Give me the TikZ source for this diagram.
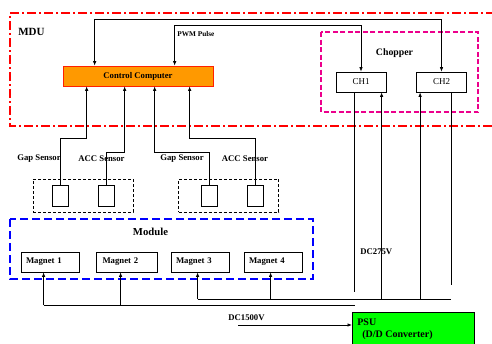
\documentclass[tikz,border=0pt]{standalone}
\usepackage{fontspec}
\setmainfont{Liberation Serif}
\usetikzlibrary{arrows.meta}

\definecolor{ccorange}{RGB}{255,153,0}
\definecolor{psugreen}{RGB}{0,255,0}

\begin{document}
\begin{tikzpicture}[x=1pt,y=-1pt,>={Latex[length=4.5pt,width=3.5pt]},line width=0.7pt,
                    every node/.style={font=\bfseries\fontsize{8.7}{10}\selectfont},
                    ctrl/.style={draw=red!75!orange,fill=ccorange,minimum width=150pt,minimum height=20pt},
                    chbox/.style={draw,thick,minimum width=50pt,minimum height=20pt,font=\fontsize{9}{10}\selectfont},
                    magbox/.style={draw,thick,minimum width=58pt,minimum height=20pt,text width=48pt,align=left},
                    sensbox/.style={draw,minimum width=16pt,minimum height=21pt},
                    sensgrp/.style={draw,densely dashed,thin,minimum width=100pt,minimum height=33pt},
                    psubox/.style={draw,thick,fill=psugreen,minimum width=122pt,minimum height=40pt},
                    mduframe/.style={draw=red,line width=1.5pt,dash pattern=on 9pt off 3pt on 2pt off 3pt},
                    chopframe/.style={draw=magenta,line width=1.2pt,dash pattern=on 5pt off 2.5pt},
                    modframe/.style={draw=blue,line width=1.5pt,dash pattern=on 8pt off 4pt},
                    lbl/.style={inner sep=0pt,anchor=west}]
	\useasboundingbox (0,0) rectangle (492,343);
	\clip (0,0) rectangle (492,343);

	% frames
	\draw[mduframe]  (495,13) -- (10,13) -- (10,126) -- (495,126);
	\draw[chopframe] (321,32) rectangle (478,112);
	\draw[modframe]  (10,219) rectangle (313,279);

	\node[ctrl]		(cc)	at (138,76)		{Control Computer};
	\node[chbox]	(ch1)	at (361,82)		{CH1};
	\node[chbox]	(ch2)	at (441.5,82)	{CH2};
	\node[magbox]	(m1)	at (50,262)		{Magnet 1};
	\node[magbox,minimum width=61pt]	(m2)	at (126.5,262)	{Magnet 2};
	\node[magbox]	(m3)	at (200,262)	{Magnet 3};
	\node[magbox]	(m4)	at (273,262)	{Magnet 4};
	\node[sensgrp]	(g1)	at (83,195.5)	{};
	\node[sensgrp]	(g2)	at (228.5,195.5)	{};
	\node[sensbox]	(s1)	at (60,195.5)	{};
	\node[sensbox]	(s2)	at (106,195.5)	{};
	\node[sensbox]	(s3)	at (209,195.5)	{};
	\node[sensbox]	(s4)	at (255.5,195.5)	{};
	\node[psubox,anchor=north west]	(psu)	at (352,312)	{};

	% labels
	\node[lbl,font=\bfseries\fontsize{11}{12}\selectfont]	(mdu)	at (18,32)	{MDU};
	\node[lbl,font=\bfseries\fontsize{7.3}{8}\selectfont]	(pwm)	at (177,34)	{PWM Pulse};
	\node[font=\bfseries\fontsize{9.8}{11}\selectfont]		(chop)	at (394.5,53)	{Chopper};
	\node[font=\bfseries\fontsize{10.7}{12}\selectfont]	(mod)	at (150.5,232)	{Module};
	\node	(gap1)	at (39,159)		{Gap Sensor};
	\node	(acc1)	at (101.5,159)	{ACC Sensor};
	\node	(gap2)	at (182,159)	{Gap Sensor};
	\node	(acc2)	at (245,159)	{ACC Sensor};
	\node[lbl]	(dc275)		at (360,252)	{DC275V};
	\node[lbl]	(dc1500)	at (228,318)	{DC1500V};
	\node[lbl,font=\bfseries\fontsize{10}{12}\selectfont]	(psut)	at (357,322)	{PSU};
	\node[lbl,font=\bfseries\fontsize{10}{12}\selectfont]	(psud)	at (362,335)	{(D/D Converter)};

	% connection points
	\coordinate (cout1)	at ([xshift=32pt]cc.north west);
	\coordinate (cout2)	at ([xshift=112pt]cc.north west);
	\coordinate (cin1)	at ([xshift=24pt]cc.south west);
	\coordinate (cin2)	at ([xshift=62pt]cc.south west);
	\coordinate (cin3)	at ([xshift=92pt]cc.south west);
	\coordinate (cin4)	at ([xshift=127pt]cc.south west);
	\coordinate (ch1o)	at ([xshift=19pt]ch1.south west);
	\coordinate (ch1i)	at ([xshift=46pt]ch1.south west);
	\coordinate (ch2i)	at ([xshift=4pt]ch2.south west);
	\coordinate (ch2o)	at ([xshift=35pt]ch2.south west);
	\coordinate (m1i)	at ([xshift=23pt]m1.south west);
	\coordinate (m2i)	at ([xshift=25pt]m2.south west);
	\coordinate (m3i)	at ([xshift=27pt]m3.south west);
	\coordinate (m4i)	at ([xshift=27pt]m4.south west);
	\coordinate (lvl1)	at (0,19);
	\coordinate (lvl2)	at (0,25);
	\coordinate (lvl3)	at (0,138);
	\coordinate (lvl4)	at (0,152);
	\coordinate (busA)	at (0,299);
	\coordinate (busB)	at (0,305);
	\coordinate (dcin)	at (238,325);

	% PWM lines
	\draw[<->] (cout1) |- (ch2.north |- lvl1) -- (ch2.north);
	\draw[<->] (cout2) |- (ch1.north |- lvl2) -- (ch1.north);

	% sensors
	\draw[->] (s1.north) |- (cin1 |- lvl3) -- (cin1);
	\draw[->] (s2.north) |- (cin2 |- lvl4) -- (cin2);
	\draw[->] (s3.north) |- (cin3 |- lvl4) -- (cin3);
	\draw[->] (s4.north) |- (cin4 |- lvl3) -- (cin4);

	% power
	\draw (ch1o) -- ++(0,200);
	\draw (ch2o) -- ++(0,193);
	\draw (m3i |- busA) -- (ch2o |- busA);
	\draw (m1i |- busB) -- (ch1o |- busB);
	\path[->]	(ch1i |- busA)	edge	(ch1i)
				(ch2i |- busA)	edge	(ch2i)
				(m1i |- busB)	edge	(m1i)
				(m2i |- busB)	edge	(m2i)
				(m3i |- busA)	edge	(m3i)
				(m4i |- busA)	edge	(m4i)
				(dcin)			edge	(dcin -| psu.west);
\end{tikzpicture}
\end{document}
